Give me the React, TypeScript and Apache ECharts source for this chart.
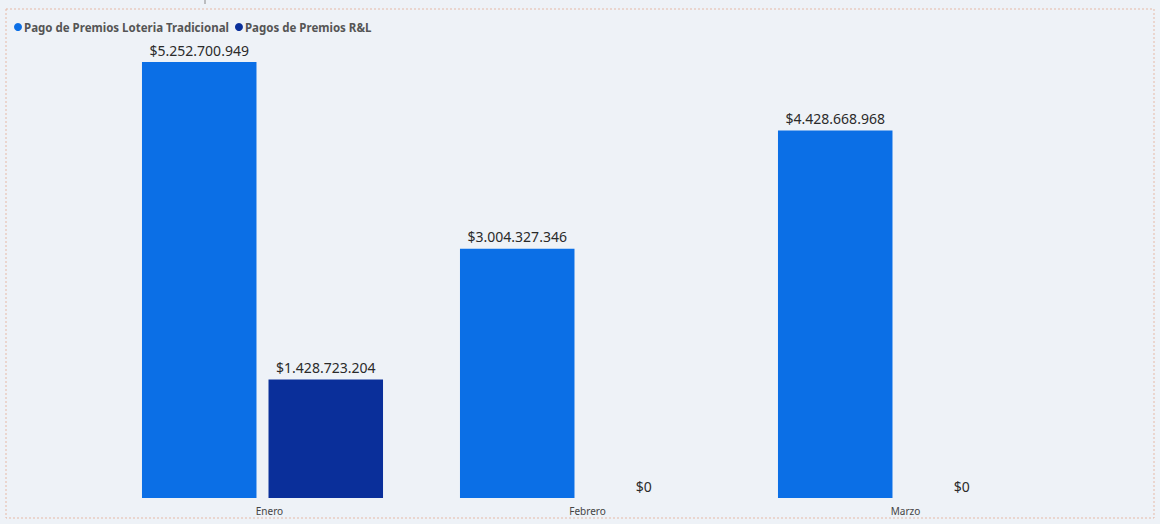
import React, { useEffect, useRef } from "react";
import * as echarts from "echarts";

const categories = ["Enero", "Febrero", "Marzo"];
const seriesNames = ["Pago de Premios Loteria Tradicional", "Pagos de Premios R&L"];
const tradicional = [5252700949, 3004327346, 4428668968];
const rl = [1428723204, 0, 0];

function fmt(v: number): string {
  const s = Math.round(v).toString();
  return "$" + s.replace(/\B(?=(\d{3})+(?!\d))/g, ".");
}

export default function App() {
  const ref = useRef<HTMLDivElement>(null);
  useEffect(() => {
    document.body.style.margin = "0";
    const chart = echarts.init(ref.current!, null, { renderer: "svg" });
    const labelCfg = {
      show: true,
      position: "top",
      distance: 5,
      fontSize: 14,
      fontFamily: "Noto Sans",
      color: "#2a2a2a",
      formatter: (p: any) => fmt(p.value),
    };
    chart.setOption({
      animation: false,
      backgroundColor: "#eef2f7",
      legend: {
        left: 9,
        top: 16,
        icon: "circle",
        itemWidth: 8,
        itemHeight: 8,
        itemGap: 6,
        textStyle: {
          fontSize: 11.5,
          fontWeight: "bold",
          fontFamily: "Noto Sans",
          color: "#555",
          padding: [0, 0, 0, -3],
        },
        data: seriesNames,
      },
      grid: { left: 103.5, right: 102.5, top: 62, bottom: 26 },
      xAxis: {
        type: "category",
        data: categories,
        axisLine: { show: false },
        axisTick: { show: false },
        axisLabel: {
          fontSize: 10,
          fontFamily: "Noto Sans",
          color: "#444",
          margin: 8,
          padding: [0, 0, 0, 14],
        },
      },
      yAxis: {
        type: "value",
        show: false,
        min: 0,
        max: 5252700949,
        splitLine: { show: false },
      },
      series: [
        {
          name: seriesNames[0],
          type: "bar",
          data: tradicional,
          itemStyle: { color: "#0b6fe6" },
          barGap: "10.5%",
          barCategoryGap: "24.2%",
          label: labelCfg,
        },
        {
          name: seriesNames[1],
          type: "bar",
          data: rl,
          itemStyle: { color: "#0a2f9a" },
          label: labelCfg,
        },
      ],
      graphic: [
        {
          type: "rect",
          shape: { x: 6, y: 9, width: 1148, height: 509 },
          style: { fill: "none", stroke: "#e6b9a6", lineWidth: 1, lineDash: [2, 2] },
          silent: true,
        },
        {
          type: "line",
          shape: { x1: 205, y1: 0, x2: 205, y2: 4 },
          style: { stroke: "#888", lineWidth: 1 },
          silent: true,
        },
      ],
    });
    return () => chart.dispose();
  }, []);
  return (
    <div
      ref={ref}
      style={{ position: "absolute", left: 0, top: 0, width: 1160, height: 524 }}
    />
  );
}
